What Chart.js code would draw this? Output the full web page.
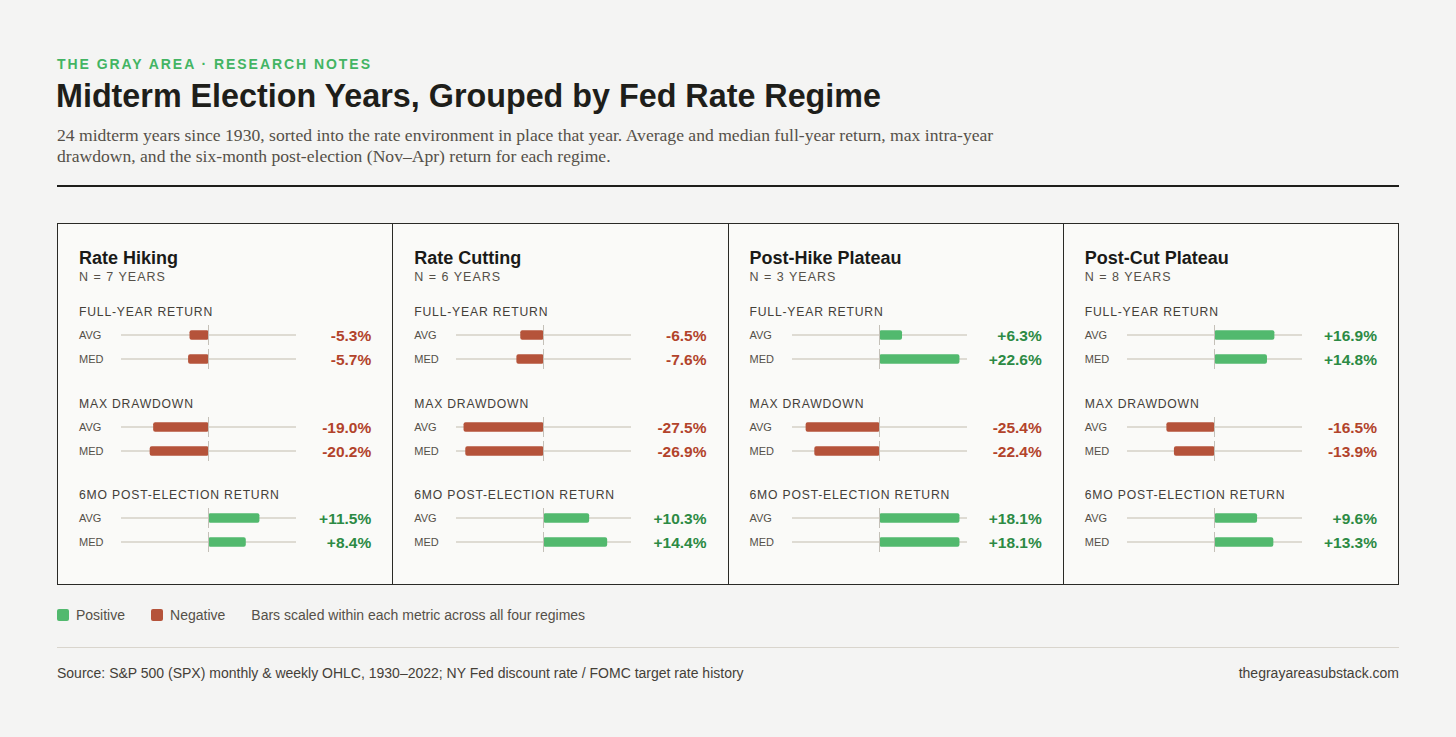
<!DOCTYPE html>
<html>
<head>
<meta charset="utf-8">
<script src="https://cdn.jsdelivr.net/npm/chart.js@4"></script>
<style>
  html,body{margin:0;padding:0;background:#f4f4f3;}
  body{width:1456px;height:737px;position:relative;font-family:"Liberation Sans",Arial,sans-serif;overflow:hidden;}
  .kicker{position:absolute;left:57px;top:56px;font-size:14px;font-weight:bold;letter-spacing:1.95px;color:#43b463;}
  .title{position:absolute;left:56px;top:78px;font-size:32.3px;font-weight:bold;color:#1e1e1a;}
  .sub{position:absolute;left:57px;top:125px;width:960px;font-family:"Liberation Serif","Times New Roman",serif;font-size:17.6px;line-height:21px;color:#555048;}
  .rule{position:absolute;left:57px;top:185px;width:1342px;height:2px;background:#1e1e1a;}
  .panels{position:absolute;left:57px;top:223px;width:1340px;height:360px;border:1px solid #2a2a26;display:flex;background:#fafaf8;}
  .panel{position:relative;flex:1;height:100%;}
  .panel + .panel{border-left:1px solid #2a2a26;}
  .ptitle{position:absolute;left:21px;top:24px;font-size:18px;font-weight:bold;color:#1a1a18;}
  .pn{position:absolute;left:21px;top:46px;font-size:12.5px;letter-spacing:1px;color:#555048;}
  .mh{position:absolute;left:21px;font-size:12.2px;letter-spacing:0.8px;color:#444038;}
  .rl{position:absolute;left:21px;font-size:11px;color:#555048;}
  .val{position:absolute;right:21px;font-size:15.5px;font-weight:bold;text-align:right;}
  .pos{color:#2c8a44;}
  .neg{color:#b2432b;}
  .cv{position:absolute;left:63px;width:175px;height:48px;}
  .legend{position:absolute;left:57px;top:607px;font-size:14px;color:#555048;display:flex;align-items:center;}
  .sw{width:12px;height:12px;border-radius:2px;display:inline-block;margin-right:7px;}
  .thin{position:absolute;left:57px;top:647px;width:1342px;height:1px;background:#d9d5cd;}
  .src{position:absolute;left:57px;top:665px;font-size:14px;color:#444038;}
  .site{position:absolute;right:57px;top:665px;font-size:14px;color:#444038;}
</style>
</head>
<body>
<div class="kicker">THE GRAY AREA · RESEARCH NOTES</div>
<div class="title">Midterm Election Years, Grouped by Fed Rate Regime</div>
<div class="sub">24 midterm years since 1930, sorted into the rate environment in place that year. Average and median full-year return, max intra-year drawdown, and the six-month post-election (Nov–Apr) return for each regime.</div>
<div class="rule"></div>
<div class="panels" id="panels"></div>
<div class="legend">
  <span class="sw" style="background:#52b96e"></span><span style="margin-right:26px">Positive</span>
  <span class="sw" style="background:#b5533a"></span><span style="margin-right:26px">Negative</span>
  <span>Bars scaled within each metric across all four regimes</span>
</div>
<div class="thin"></div>
<div class="src">Source: S&amp;P 500 (SPX) monthly &amp; weekly OHLC, 1930–2022; NY Fed discount rate / FOMC target rate history</div>
<div class="site">thegrayareasubstack.com</div>

<script>
const regimes = ['Rate Hiking', 'Rate Cutting', 'Post-Hike Plateau', 'Post-Cut Plateau'];
const yearCounts = [7, 6, 3, 8];
const metricNames = ['FULL-YEAR RETURN', 'MAX DRAWDOWN', '6MO POST-ELECTION RETURN'];
const rowLabels = ['AVG', 'MED'];
const fullYearAvg = [-5.3, -6.5, 6.3, 16.9];
const fullYearMed = [-5.7, -7.6, 22.6, 14.8];
const drawdownAvg = [-19.0, -27.5, -25.4, -16.5];
const drawdownMed = [-20.2, -26.9, -22.4, -13.9];
const postElectionAvg = [11.5, 10.3, 18.1, 9.6];
const postElectionMed = [8.4, 14.4, 18.1, 13.3];

const metrics = [
  [fullYearAvg, fullYearMed],
  [drawdownAvg, drawdownMed],
  [postElectionAvg, postElectionMed]
];
const POS = '#52b96e', NEG = '#b5533a';
const headTops = [81, 173, 264];

const trackPlugin = {
  id: 'track',
  beforeDatasetsDraw(chart) {
    const ctx = chart.ctx, y = chart.scales.y;
    ctx.save();
    ctx.fillStyle = '#dedbd3';
    chart.data.labels.forEach((l, i) => {
      const cy = y.getPixelForValue(i);
      ctx.fillRect(0, cy - 1, chart.width, 2);
    });
    ctx.restore();
  },
  afterDatasetsDraw(chart) {
    const ctx = chart.ctx, x = chart.scales.x, y = chart.scales.y;
    const zx = Math.floor(x.getPixelForValue(0)) + 0.5;
    ctx.save();
    ctx.strokeStyle = '#c4c0b8';
    ctx.lineWidth = 1;
    chart.data.labels.forEach((l, i) => {
      const cy = y.getPixelForValue(i);
      ctx.beginPath();
      ctx.moveTo(zx, cy - 10);
      ctx.lineTo(zx, cy + 10);
      ctx.stroke();
    });
    ctx.restore();
  }
};

const fmt = v => (v > 0 ? '+' : '') + v.toFixed(1) + '%';
const panelsEl = document.getElementById('panels');

regimes.forEach((name, p) => {
  const panel = document.createElement('div');
  panel.className = 'panel';
  panel.innerHTML = `<div class="ptitle">${name}</div><div class="pn">N = ${yearCounts[p]} YEARS</div>`;
  panelsEl.appendChild(panel);

  metrics.forEach((pair, m) => {
    const top = headTops[m];
    const h = document.createElement('div');
    h.className = 'mh';
    h.style.top = top + 'px';
    h.textContent = metricNames[m];
    panel.appendChild(h);

    const maxAbs = Math.max(...pair[0].map(Math.abs), ...pair[1].map(Math.abs));
    const vals = [pair[0][p], pair[1][p]];

    vals.forEach((v, r) => {
      const cy = top + 23 + r * 24 + 7;
      const lab = document.createElement('div');
      lab.className = 'rl';
      lab.style.top = (cy - 6.5) + 'px';
      lab.textContent = rowLabels[r];
      panel.appendChild(lab);
      const val = document.createElement('div');
      val.className = 'val ' + (v >= 0 ? 'pos' : 'neg');
      val.style.top = (cy - 8.3) + 'px';
      val.textContent = fmt(v);
      panel.appendChild(val);
    });

    const wrap = document.createElement('div');
    wrap.className = 'cv';
    wrap.style.top = (top + 23 + 7 - 12) + 'px';
    const cv = document.createElement('canvas');
    wrap.appendChild(cv);
    panel.appendChild(wrap);

    new Chart(cv, {
      type: 'bar',
      data: {
        labels: rowLabels,
        datasets: [{
          data: vals,
          backgroundColor: vals.map(v => v >= 0 ? POS : NEG),
          barThickness: 9,
          borderRadius: 2,
          borderSkipped: false
        }]
      },
      options: {
        indexAxis: 'y',
        responsive: true,
        maintainAspectRatio: false,
        animation: false,
        events: [],
        layout: { padding: 0 },
        plugins: { legend: { display: false }, tooltip: { enabled: false } },
        scales: {
          x: { display: false, min: -maxAbs / 0.91, max: maxAbs / 0.91 },
          y: { display: false }
        }
      },
      plugins: [trackPlugin]
    });
  });
});
</script>
</body>
</html>
